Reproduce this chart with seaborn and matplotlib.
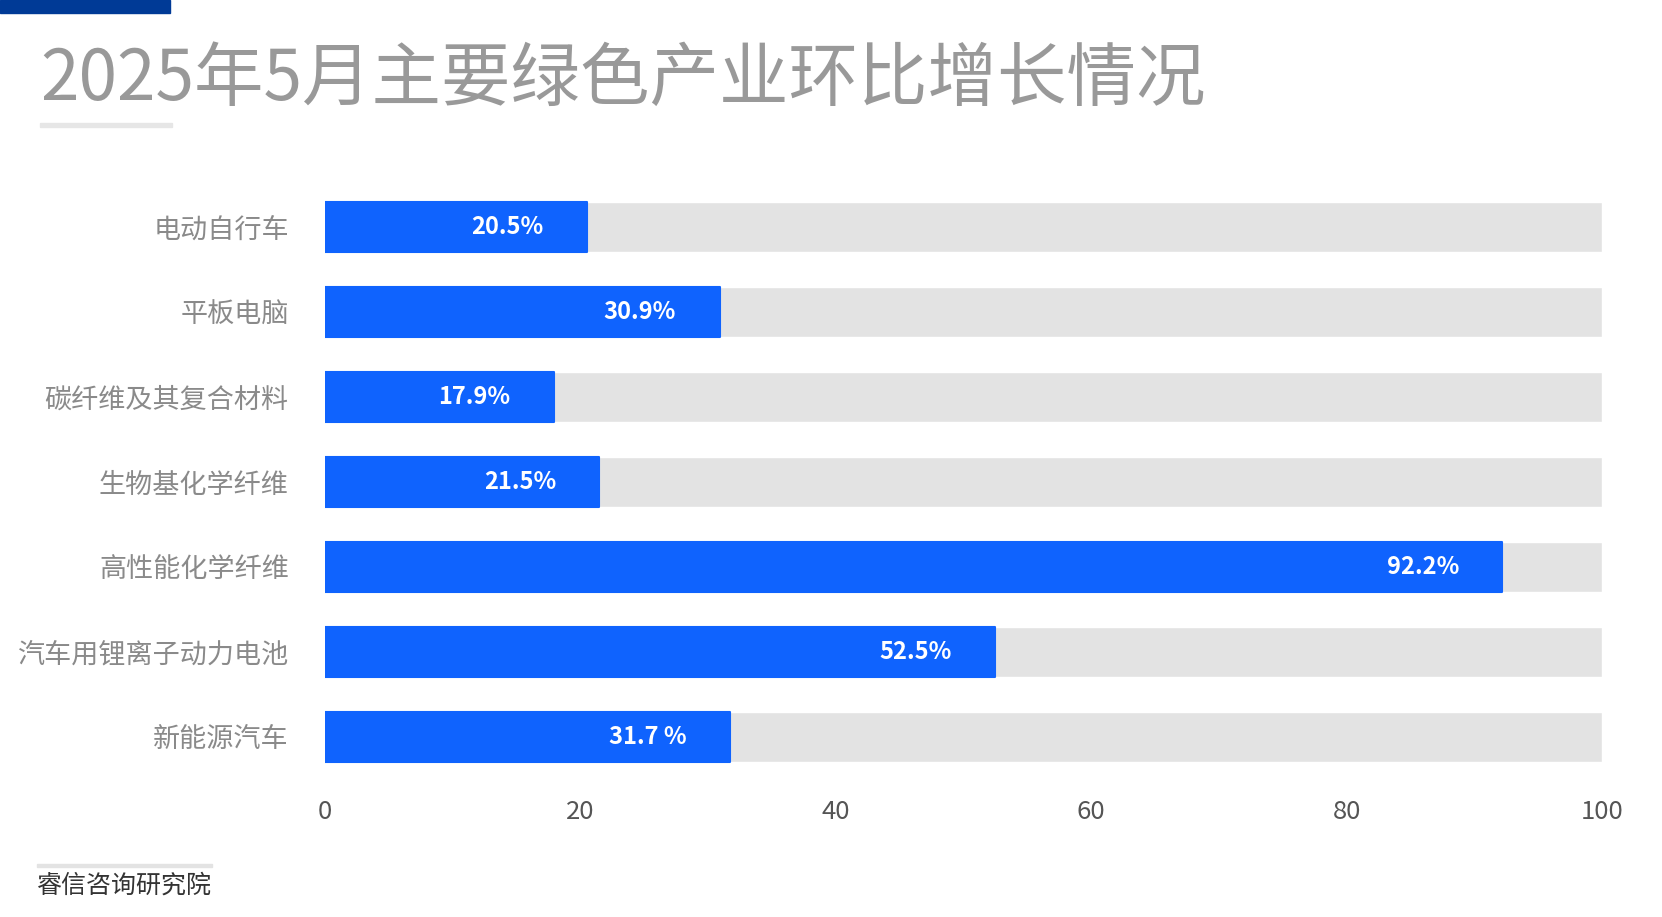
import pandas as pd
import matplotlib.pyplot as plt
import seaborn as sns

# Chart data
categories = ["电动自行车", "平板电脑", "碳纤维及其复合材料", "生物基化学纤维",
              "高性能化学纤维", "汽车用锂离子动力电池", "新能源汽车"]
growth = [20.5, 30.9, 17.9, 21.5, 92.2, 52.5, 31.7]
value_labels = ["20.5%", "30.9%", "17.9%", "21.5%", "92.2%", "52.5%", "31.7 %"]
track_max = [100] * len(categories)
x_ticks = [0, 20, 40, 60, 80, 100]

df = pd.DataFrame({"category": categories, "growth": growth, "track": track_max})

sns.set_style("white")
plt.rcParams["font.family"] = ["Noto Sans CJK SC", "DejaVu Sans"]

fig = plt.figure(figsize=(16.62, 9.17), dpi=100)
ax = fig.add_axes([0.1955, 0.150, 0.7684, 0.6488])

# Grey background tracks, then the blue bars on top
sns.barplot(data=df, y="category", x="track", orient="h", color="#e3e3e3",
            width=0.59, saturation=1, ax=ax)
sns.barplot(data=df, y="category", x="growth", orient="h", color="#0f63fe",
            width=0.59, saturation=1, ax=ax)

for p in ax.patches[len(categories):]:
    p.set_edgecolor("#0f63fe")
    p.set_linewidth(1.5)
    p.set_joinstyle("round")

# Value labels inside the bars
for i, (v, lab) in enumerate(zip(growth, value_labels)):
    ax.text(v - 3.4, i, lab, ha="right", va="center", color="white",
            fontsize=17, fontweight="bold")

ax.set_xlim(0, 100)
ax.set_ylim(6.5, -0.5)
ax.set_xticks(x_ticks)
ax.set_xticklabels([str(t) for t in x_ticks])
ax.set_xlabel("")
ax.set_ylabel("")
ax.tick_params(axis="x", length=0, pad=14, labelsize=18.5, labelcolor="#555555")
ax.tick_params(axis="y", length=0, pad=26, labelsize=19.5, labelcolor="#8a8a8a")
sns.despine(ax=ax, left=True, bottom=True)

# Title and decorations
fig.text(0.024, 0.913, "2025年5月主要绿色产业环比增长情况", fontsize=50,
         color="#999999", ha="left", va="center")
fig.patches.append(plt.Rectangle((0, 0.986), 0.1023, 0.014, transform=fig.transFigure,
                                 color="#003a96", zorder=5))
fig.patches.append(plt.Rectangle((0.024, 0.862), 0.0795, 0.004, transform=fig.transFigure,
                                 color="#e6e6e6", zorder=5))
fig.patches.append(plt.Rectangle((0.022, 0.055), 0.1056, 0.003, transform=fig.transFigure,
                                 color="#e3e3e3", zorder=5))
fig.text(0.022, 0.034, "睿信咨询研究院", fontsize=18, color="#333333",
         ha="left", va="center")

fig.savefig("out.png", dpi=100)
